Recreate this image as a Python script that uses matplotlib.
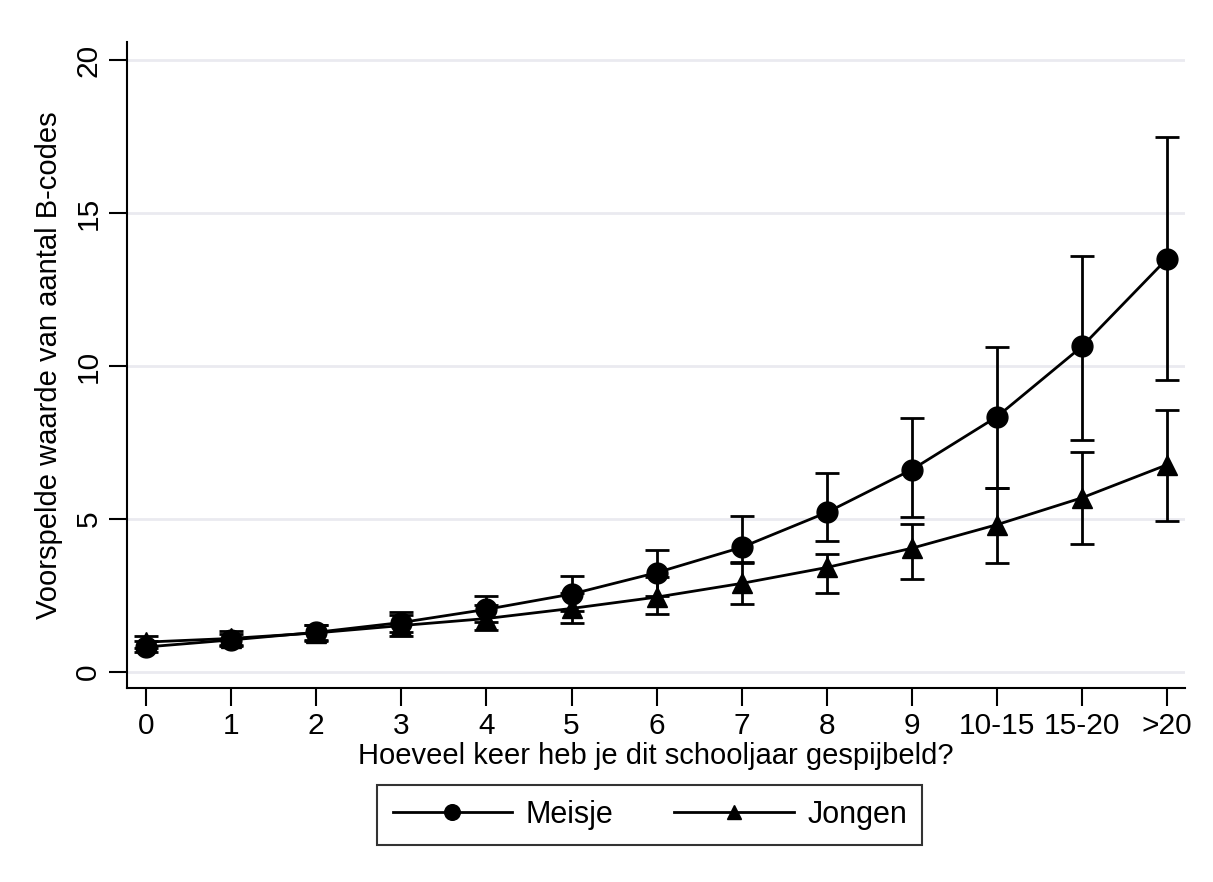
"""Predicted number of B-codes by truancy frequency, girls vs boys."""

import matplotlib

matplotlib.use("Agg")
import matplotlib.pyplot as plt
import numpy as np

categories = ["0", "1", "2", "3", "4", "5", "6", "7", "8", "9", "10-15", "15-20", ">20"]

meisje = [0.82, 1.05, 1.30, 1.62, 2.05, 2.55, 3.25, 4.08, 5.22, 6.62, 8.35, 10.65, 13.52]
meisje_lo = [0.65, 0.85, 1.05, 1.32, 1.64, 2.00, 2.50, 3.60, 4.28, 5.08, 6.02, 7.60, 9.54]
meisje_hi = [1.00, 1.25, 1.55, 1.97, 2.50, 3.15, 4.00, 5.10, 6.52, 8.30, 10.62, 13.60, 17.50]

jongen = [0.98, 1.10, 1.28, 1.52, 1.75, 2.08, 2.45, 2.90, 3.42, 4.05, 4.82, 5.70, 6.78]
jongen_lo = [0.80, 0.90, 1.00, 1.18, 1.39, 1.62, 1.90, 2.22, 2.60, 3.05, 3.56, 4.19, 4.94]
jongen_hi = [1.18, 1.35, 1.55, 1.88, 2.20, 2.60, 3.10, 3.58, 3.86, 4.84, 6.02, 7.19, 8.56]

plt.rcParams["font.family"] = ["Liberation Sans", "DejaVu Sans"]

fig = plt.figure(figsize=(12.13, 8.82), dpi=100)
ax = fig.add_axes([0.105, 0.22, 0.872, 0.732])

x = np.arange(len(categories))


def draw(y, lo, hi, marker, size, label):
    y = np.array(y)
    err = [y - np.array(lo), np.array(hi) - y]
    ax.errorbar(x, y, yerr=err, fmt="none", ecolor="black", elinewidth=2,
                capsize=8.5, capthick=2, zorder=2)
    ax.plot(x, y, color="black", lw=2, marker=marker, markersize=size,
            label=label, zorder=3)


draw(meisje, meisje_lo, meisje_hi, "o", 15, "Meisje")
draw(jongen, jongen_lo, jongen_hi, "^", 14, "Jongen")

ax.set_xlim(-0.22, 12.21)
ax.set_ylim(-0.52, 20.59)
ax.set_xticks(x)
ax.set_xticklabels(categories)
ax.set_yticks([0, 5, 10, 15, 20])
ax.set_yticklabels(["0", "5", "10", "15", "20"], rotation=90, va="center")
ax.yaxis.grid(True, color="#eaeaf0", lw=2)
ax.set_axisbelow(True)

for side in ["top", "right"]:
    ax.spines[side].set_visible(False)
for side in ["left", "bottom"]:
    ax.spines[side].set_linewidth(1.5)

ax.tick_params(axis="both", labelsize=21.5, length=13, width=1.5, direction="out")
ax.tick_params(axis="x", pad=4)
ax.tick_params(axis="y", pad=5)

ax.set_xlabel("Hoeveel keer heb je dit schooljaar gespijbeld?", fontsize=21, labelpad=2)
ax.set_ylabel("Voorspelde waarde van aantal B-codes", fontsize=21, labelpad=8)

leg = ax.legend(loc="upper center", bbox_to_anchor=(0.494, -0.15), ncol=2,
                fontsize=22, frameon=True, fancybox=False, edgecolor="black",
                handlelength=3.9, handletextpad=0.45, columnspacing=2.0,
                borderpad=0.5, borderaxespad=0.0, markerscale=0.75)
leg.get_frame().set_linewidth(1.5)

fig.savefig("out.png", dpi=100, facecolor="white")
plt.close(fig)
